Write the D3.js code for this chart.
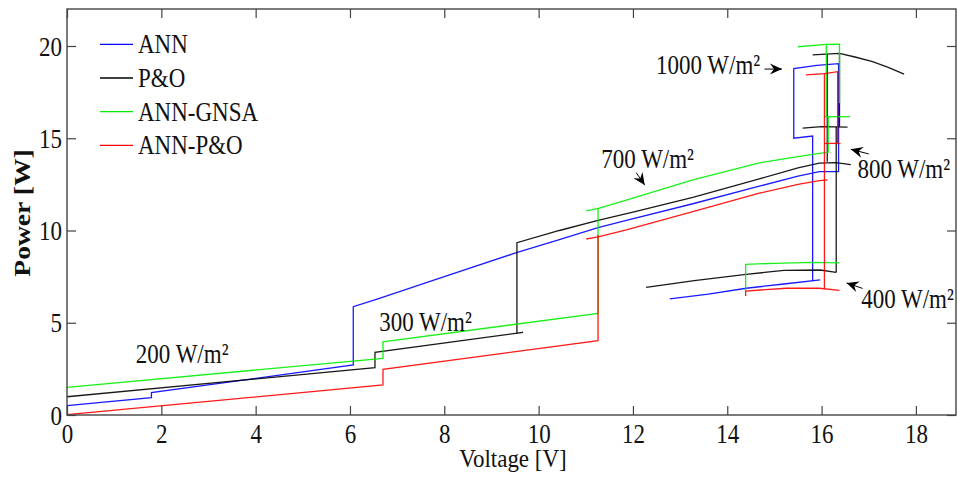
<!DOCTYPE html>
<html>
<head>
<meta charset="utf-8">
<script src="https://cdn.jsdelivr.net/npm/d3@7"></script>
<style>
  body { margin: 0; background: #fff; }
  svg { display: block; }
  text { font-family: "Liberation Serif", "Times New Roman", serif; }
</style>
</head>
<body>
<script>
var w = 957,
    h = 477;

// each series is a list of segments, each segment a list of [voltage, power]
var annData = [
  [[0,0.51],[1.79,0.94],[1.79,1.21],[6.07,2.71],[6.07,5.87],[6.56,6.27],[8.0,7.5],[9.53,8.8],[10.44,9.5],[11.26,10.15],[11.86,10.55],[13.27,11.45],[14.68,12.4],[15.5,12.95],[15.95,13.19],[16.36,13.19],[16.36,19.04],[15.9,18.95],[15.41,18.78],[15.41,15.0],[15.81,15.12],[15.81,7.28]],
  [[12.78,6.29],[13.6,6.55],[14.4,6.87],[15.2,7.1],[15.97,7.32]]
];
var poData = [
  [[0,0.99],[6.53,2.56],[6.53,3.4],[9.67,4.48],[9.54,4.43],[9.54,9.34],[10.44,10.0],[11.26,10.55],[12.0,11.0],[13.27,11.8],[14.68,12.8],[15.5,13.4],[15.95,13.65],[16.3,13.68],[16.62,13.57]],
  [[16.12,13.73],[16.12,19.55]],
  [[15.81,19.52],[16.38,19.6],[16.73,19.39],[17.08,19.15],[17.4,18.85],[17.75,18.48]],
  [[16.38,19.6],[16.38,15.63]],
  [[15.6,15.55],[16.0,15.63],[16.55,15.6]],
  [[16.31,15.63],[16.31,7.73]],
  [[12.28,6.92],[13.3,7.28],[14.4,7.62],[15.2,7.84],[15.97,7.86],[16.31,7.73]]
];
var gnsaData = [
  [[0,1.5],[6.7,3.07],[6.7,3.97],[11.26,5.51],[11.26,11.2]],
  [[11.01,11.06],[11.27,11.2],[11.86,11.65],[13.27,12.74],[14.68,13.67],[15.5,14.0],[15.95,14.18],[16.14,14.24],[16.14,16.17]],
  [[16.05,16.17],[16.6,16.17]],
  [[15.5,19.96],[16.1,20.09],[16.38,20.1],[16.38,16.9]],
  [[16.1,20.09],[16.1,16.17]],
  [[14.39,6.74],[14.39,8.17],[15.0,8.22],[15.8,8.27],[16.38,8.25]]
];
var annPoData = [
  [[0,0.02],[6.7,1.63],[6.7,2.48],[11.26,4.03],[11.26,9.76]],
  [[11.01,9.54],[11.26,9.66],[11.86,10.03],[13.27,11.02],[14.68,12.02],[15.5,12.5],[15.95,12.7],[16.13,12.74]],
  [[16.06,6.83],[16.06,18.49]],
  [[15.67,18.43],[16.06,18.5],[16.34,18.61],[16.34,14.72]],
  [[16.06,14.72],[16.4,14.72]],
  [[14.39,6.45],[14.39,6.72],[15.25,6.87],[15.95,6.87],[16.38,6.76]]
];

var seriesNames = ["ANN", "P&O", "ANN-GNSA", "ANN-P&O"];
var seriesColors = ["#0000ff", "#000000", "#00ee00", "#ff0000"];
var seriesData = [annData, poData, gnsaData, annPoData];

var xTicks = [0, 2, 4, 6, 8, 10, 12, 14, 16, 18];
var yTicks = [0, 5, 10, 15, 20];

// irradiance notes: text, text anchor point, arrow start, arrow end (data units)
var notes = [
  {t: "200 W/m\u00b2", at: [1.46, 2.82]},
  {t: "300 W/m\u00b2", at: [6.62, 4.53]},
  {t: "700 W/m\u00b2", at: [11.33, 13.39], from: [12.07, 13.13], to: [12.25, 12.46]},
  {t: "1000 W/m\u00b2", at: [12.49, 18.48], from: [14.79, 18.75], to: [15.16, 18.75]},
  {t: "800 W/m\u00b2", at: [16.76, 12.85], from: [17.0, 14.15], to: [16.62, 14.4]},
  {t: "400 W/m\u00b2", at: [16.84, 5.8], from: [16.87, 6.86], to: [16.53, 7.16]}
];

var m = {left: 67, right: 956, top: 9, bottom: 415};
var sy = 1.2; // the figure is stretched vertically
var fs = 23;

var x = d3.scaleLinear().domain([0, 18.85]).range([m.left, m.right]);
var y = d3.scaleLinear().domain([0, 22]).range([m.bottom, m.bottom - 22 * 18.45]);

var svg = d3.select("body").append("svg").attr("width", w).attr("height", h);

var defs = svg.append("defs");
defs.append("marker")
  .attr("id", "head")
  .attr("viewBox", "-13 -6 15 12")
  .attr("markerWidth", 15).attr("markerHeight", 12)
  .attr("markerUnits", "userSpaceOnUse")
  .attr("refX", 0).attr("refY", 0)
  .attr("orient", "auto")
  .append("path")
  .attr("d", "M0,0 L-12,-5.5 L-8,0 L-12,5.5 Z")
  .attr("fill", "#000");

defs.append("clipPath").attr("id", "plot")
  .append("rect").attr("x", m.left).attr("y", m.top)
  .attr("width", m.right - m.left).attr("height", m.bottom - m.top);

// series
var line = d3.line().x(function(d) { return x(d[0]); }).y(function(d) { return y(d[1]); });
var plot = svg.append("g").attr("clip-path", "url(#plot)");
seriesData.forEach(function(segs, i) {
  plot.selectAll(null).data(segs).enter().append("path")
    .attr("d", line)
    .attr("fill", "none")
    .attr("stroke", seriesColors[i])
    .attr("stroke-width", 1.3)
    .attr("stroke-opacity", 0.9);
});

// axes, ticks inside
var tk = 9;
var gb = svg.append("g").attr("transform", "translate(0," + m.bottom + ")")
  .call(d3.axisBottom(x).tickValues(xTicks).tickSizeInner(-tk).tickSizeOuter(0).tickPadding(0));
var gt = svg.append("g").attr("transform", "translate(0," + m.top + ")")
  .call(d3.axisTop(x).tickValues(xTicks).tickSizeInner(-tk).tickSizeOuter(0).tickFormat(""));
var gl = svg.append("g").attr("transform", "translate(" + m.left + ",0)")
  .call(d3.axisLeft(y).tickValues(yTicks).tickSizeInner(-tk).tickSizeOuter(0).tickPadding(0));
var gr = svg.append("g").attr("transform", "translate(" + m.right + ",0)")
  .call(d3.axisRight(y).tickValues(yTicks).tickSizeInner(-tk).tickSizeOuter(0).tickFormat(""));

[gb, gt, gl, gr].forEach(function(g) {
  g.select(".domain").remove();
  g.selectAll(".tick line").attr("stroke", "#444").attr("stroke-width", 1.2);
});

gb.selectAll(".tick text")
  .attr("y", null).attr("dy", null)
  .attr("transform", "translate(0,27.5) scale(1," + sy + ")")
  .attr("font-size", fs).attr("fill", "#111").attr("font-family", "Liberation Serif, serif");
gl.selectAll(".tick text")
  .attr("x", null).attr("dy", null)
  .attr("transform", "translate(-5,9) scale(1," + sy + ")")
  .attr("font-size", fs).attr("fill", "#111").attr("font-family", "Liberation Serif, serif");

svg.append("rect")
  .attr("x", m.left).attr("y", m.top)
  .attr("width", m.right - m.left).attr("height", m.bottom - m.top)
  .attr("fill", "none").attr("stroke", "#444").attr("stroke-width", 1.4);

function txt(g, s, px, py, opts) {
  opts = opts || {};
  var k = opts.sy || sy;
  return g.append("text")
    .attr("transform", "translate(" + px + "," + py + ") scale(1," + k + ")" + (opts.rot ? " rotate(" + opts.rot + ")" : ""))
    .attr("text-anchor", opts.anchor || "start")
    .attr("font-size", fs)
    .attr("font-weight", opts.bold ? "bold" : "normal")
    .attr("fill", "#111")
    .text(s);
}

// axis titles
txt(svg, "Voltage [V]", 513, 467, {anchor: "middle", sy: 1.05});
txt(svg, "Power [W]", 30, 213, {anchor: "middle", rot: -90, bold: true});

// legend
var lg = svg.append("g");
seriesNames.forEach(function(n, i) {
  var ly = 44.3 + i * 33.7;
  lg.append("line").attr("x1", 100).attr("x2", 133).attr("y1", ly).attr("y2", ly)
    .attr("stroke", seriesColors[i]).attr("stroke-width", 1.3);
  txt(lg, n, 138, ly + 9);
});

// irradiance notes
notes.forEach(function(d) {
  txt(svg, d.t, x(d.at[0]), y(d.at[1]));
  if (d.from) {
    svg.append("line")
      .attr("x1", x(d.from[0])).attr("y1", y(d.from[1]))
      .attr("x2", x(d.to[0])).attr("y2", y(d.to[1]))
      .attr("stroke", "#000").attr("stroke-width", 1)
      .attr("marker-end", "url(#head)");
  }
});
</script>
</body>
</html>
